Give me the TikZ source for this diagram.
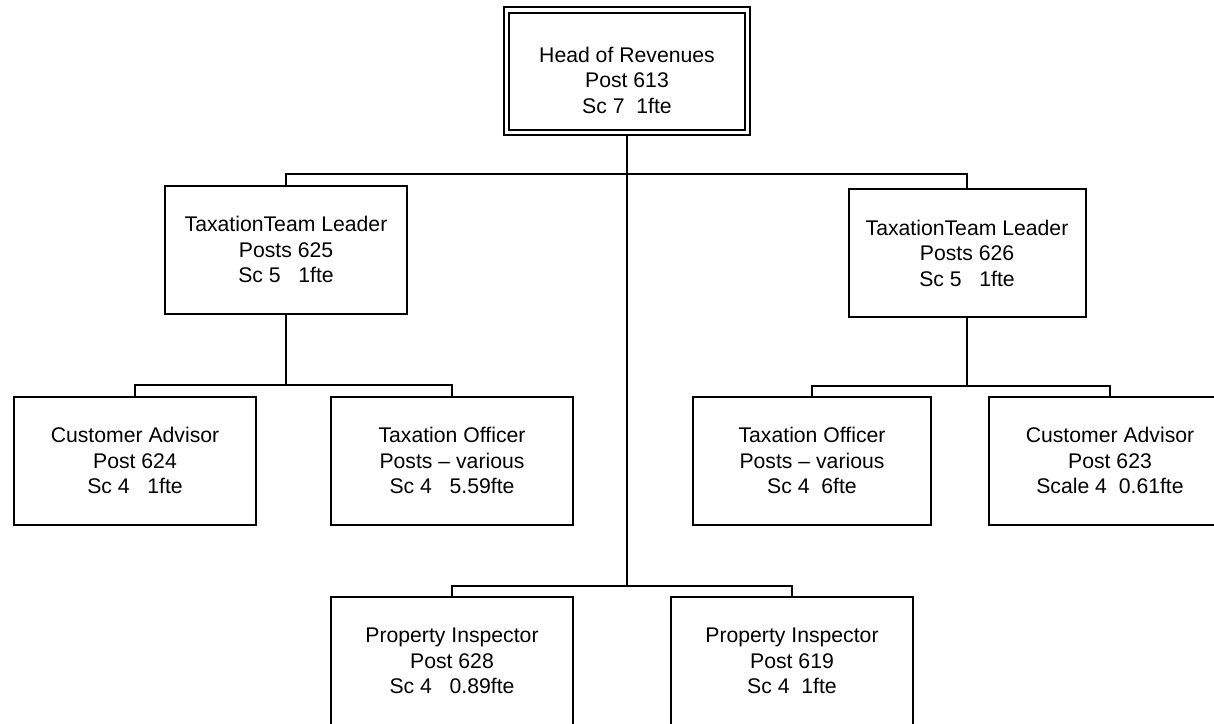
\documentclass[tikz,border=0pt]{standalone}
\usepackage{fontspec}
\setmainfont{Liberation Sans}

\begin{document}
\begin{tikzpicture}[x=1pt, y=-1pt,
		post/.style={draw, line width=2pt, minimum width=242pt, minimum height=128pt, inner sep=0pt},
		txt/.style={align=center, font=\fontsize{21.2}{25.5}\selectfont},
		link/.style={line width=2pt}]

		\clip (0, 0) rectangle (1214, 723);

		\node[post, double, double distance=3.5pt, minimum width=241pt, minimum height=122.5pt] (head) at (627, 71.25) {};
		\node[txt] (headtxt) at (627, 80) {Head of Revenues\\Post 613\\Sc 7\ \ 1fte};

		\node[post, txt] (tlL) at (286, 249.5) {TaxationTeam Leader\\Posts 625\\Sc 5\ \ \ 1fte};
		\node[post, txt, minimum width=237pt] (tlR) at (967, 253) {TaxationTeam Leader\\Posts 626\\Sc 5\ \ \ 1fte};

		\node[post, txt] (caL) at (135, 460.5) {Customer Advisor\\Post 624\\Sc 4\ \ \ 1fte};
		\node[post, txt] (toL) at (452, 460.5) {Taxation Officer\\Posts – various\\Sc 4\ \ \ 5.59fte};
		\node[post, txt, minimum width=238pt] (toR) at (812, 460.5) {Taxation Officer\\Posts – various\\Sc 4\ \ 6fte};
		\node[post, txt] (caR) at (1110, 460.5) {Customer Advisor\\Post 623\\Scale 4\ \ 0.61fte};

		\node[post, txt] (piL) at (452, 661) {Property Inspector\\Post 628\\Sc 4\ \ \ 0.89fte};
		\node[post, txt] (piR) at (792, 661) {Property Inspector\\Post 619\\Sc 4\ \ 1fte};

		\coordinate (busTop) at (627, 174);
		\coordinate (busL) at (286, 385);
		\coordinate (busR) at (967, 386);
		\coordinate (busLow) at (627, 586);

		\draw[link] (head.south) -- (busLow);
		\draw[link] (tlL.north) |- (busTop) -| (tlR.north);
		\draw[link] (tlL.south) -- (busL);
		\draw[link] (caL.north) |- (busL) -| (toL.north);
		\draw[link] (tlR.south) -- (busR);
		\draw[link] (toR.north) |- (busR) -| (caR.north);
		\draw[link] (piL.north) |- (busLow) -| (piR.north);

	\end{tikzpicture}
\end{document}
